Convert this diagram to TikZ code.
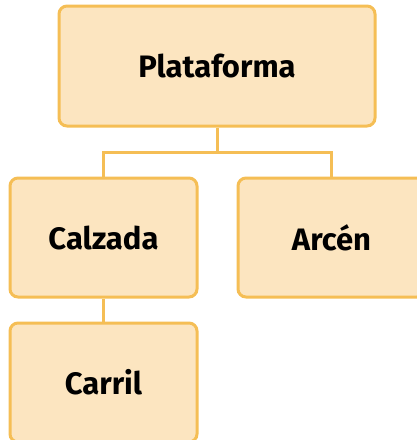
\documentclass[tikz,border=0pt]{standalone}
\usepackage{fontspec}
\setmainfont{Fira Sans}
\definecolor{boxfill}{HTML}{FCE5C0}
\definecolor{boxline}{HTML}{F5BE55}
\begin{document}
\begin{tikzpicture}[x=1pt,y=-1pt,
  box/.style={draw=boxline, fill=boxfill, line width=3pt, rounded corners=8pt,
    inner sep=0pt, font=\fontsize{31}{36}\selectfont\bfseries, text=black},
  conn/.style={draw=boxline, line width=3pt}]
\useasboundingbox (0,0) rectangle (417,440);
\clip (0,0) rectangle (417,440);
\node[box, minimum width=316pt, minimum height=120pt] (plat) at (217,66) {Plataforma};
\node[box, minimum width=187pt, minimum height=119pt] (calz) at (103.5,237.5) {Calzada};
\node[box, minimum width=187pt, minimum height=119pt] (arcen) at (331.5,237.5) {Arcén};
\node[box, minimum width=187pt, minimum height=119pt] (carril) at (103.5,382.5) {Carril};
\coordinate (mid) at (217,152);
\draw[conn] (plat.south) -- (mid);
\draw[conn] (calz.north) |- (mid) -| (arcen.north);
\draw[conn] (calz.south) -- (carril.north);
\end{tikzpicture}
\end{document}
